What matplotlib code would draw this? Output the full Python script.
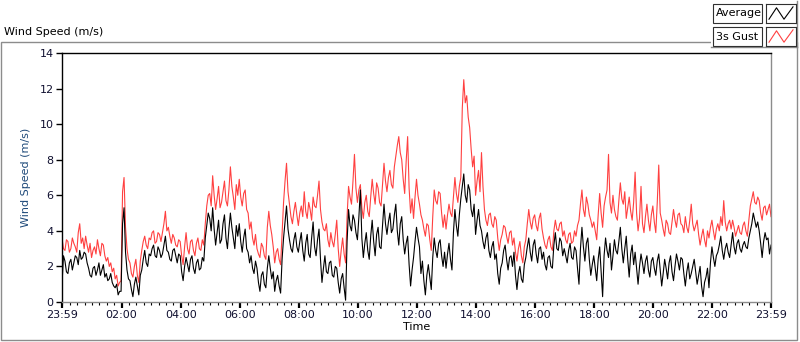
import matplotlib
matplotlib.use('Agg')
import matplotlib.pyplot as plt
import numpy as np
from matplotlib.patches import Rectangle
from matplotlib.lines import Line2D

# readings every 3 minutes starting at 23:59 (one row per hour)
gust = [3.6,3.0, 2.9,3.5, 3.4,2.8, 3.0,3.6, 3.3,3.1, 2.8,3.9, 4.4,3.3, 3.6,3.0, 3.7,3.2, 2.8,3.3,
        2.5,2.9, 3.1,2.7, 3.5,3.0, 2.6,3.3, 3.2,2.6, 2.3,2.5, 2.0,2.2, 1.7,1.9, 1.3,1.5, 0.9,1.1,
        1.2,6.2, 7.0,4.2, 3.0,2.4, 2.2,1.6, 1.4,2.0, 2.4,1.5, 1.1,2.3, 2.9,3.4, 3.7,3.2, 3.0,3.6,
        3.5,3.9, 4.0,3.3, 3.4,3.9, 3.8,3.4, 3.9,4.4, 5.1,4.0, 4.2,3.7, 3.3,3.8, 3.6,3.2, 3.1,3.5,
        3.4,2.6, 2.1,3.1, 3.9,3.0, 2.7,3.4, 3.5,2.9, 2.6,3.3, 3.6,3.0, 2.9,3.5, 3.2,4.4, 5.4,6.0,
        6.1,5.4, 7.1,6.0, 5.2,5.8, 6.5,5.3, 5.6,6.2, 6.8,5.7, 5.4,6.3, 7.6,6.5, 5.9,5.2, 6.6,6.0,
        6.9,5.9, 5.4,6.1, 6.3,5.2, 5.0,4.1, 4.5,3.6, 3.2,3.8, 3.0,2.7, 2.5,3.3, 3.1,2.6, 2.4,4.2,
        5.1,4.3, 3.8,3.1, 2.2,2.8, 3.0,2.4, 2.1,3.9, 5.6,6.8, 7.8,6.2, 5.5,4.8, 4.4,5.1, 5.6,4.9,
        4.3,5.0, 5.4,4.8, 6.2,5.1, 4.7,5.6, 5.2,4.6, 5.9,5.4, 5.3,6.0, 6.8,5.2, 4.5,4.1, 4.0,4.4,
        3.5,3.1, 3.9,3.4, 3.1,3.8, 4.6,3.0, 2.0,2.9, 3.6,2.7, 2.2,4.8, 6.5,5.9, 5.5,6.8, 8.3,6.4,
        5.6,6.3, 6.6,5.3, 4.7,5.6, 6.0,5.1, 4.8,5.9, 6.9,6.1, 5.5,6.7, 6.4,5.6, 5.4,6.6, 7.8,6.8,
        6.2,7.0, 7.4,6.6, 6.4,7.6, 8.2,8.8, 9.3,8.4, 8.0,6.9, 6.1,7.9, 9.3,6.4, 5.0,5.8, 4.7,5.9,
        6.9,6.0, 5.5,4.9, 4.6,4.1, 3.7,4.4, 4.3,3.5, 2.9,4.8, 6.3,5.7, 5.5,6.2, 6.1,5.0, 4.2,4.9,
        4.1,4.9, 5.5,5.0, 4.8,5.9, 7.0,6.1, 5.6,6.5, 7.0,10.9, 12.5,11.2, 11.6,10.4, 9.8,8.6, 7.6,8.2,
        6.0,6.8, 7.4,6.2, 8.4,6.5, 5.2,4.6, 4.3,4.9, 5.0,4.4, 4.2,4.8, 4.6,3.6, 2.9,3.5, 3.8,4.3,
        4.2,3.7, 3.3,3.9, 4.0,3.2, 3.6,2.8, 2.3,3.0, 3.4,2.6, 2.2,3.1, 3.5,4.4, 5.2,4.5, 4.1,4.7,
        4.9,4.3, 4.0,4.7, 5.0,4.1, 3.6,3.2, 3.0,3.5, 3.7,3.1, 2.9,4.0, 4.6,4.1, 4.0,4.4, 4.5,3.7,
        4.0,3.5, 3.3,3.8, 3.9,3.3, 3.4,4.0, 3.7,4.3, 4.6,5.5, 6.3,5.2, 4.8,5.9, 5.5,4.9, 4.6,4.2,
        4.5,4.0, 3.5,4.9, 6.1,5.0, 4.2,5.4, 5.9,6.3, 8.3,5.6, 5.0,6.0, 5.2,4.8, 4.6,5.7, 6.7,5.8,
        5.5,6.2, 4.7,5.3, 5.9,5.1, 4.6,5.6, 7.3,5.0, 4.0,4.7, 6.5,4.4, 3.9,4.8, 5.5,4.6, 4.0,4.9,
        5.4,4.5, 3.9,5.6, 7.7,5.0, 4.6,4.1, 3.7,4.6, 4.4,3.9, 3.8,4.5, 5.2,4.6, 4.2,4.9, 5.0,4.4,
        4.3,3.9, 4.8,4.2, 3.9,4.6, 5.5,4.4, 4.0,4.3, 4.6,3.8, 3.2,3.7, 4.1,3.5, 3.1,4.0, 3.6,4.2,
        4.6,4.0, 3.5,4.1, 4.4,4.0, 4.8,4.3, 5.7,4.5, 4.0,4.4, 4.6,4.1, 4.6,4.2, 3.7,4.0, 4.3,3.9,
        3.8,4.3, 4.5,4.0, 3.7,4.6, 5.4,5.8, 6.2,5.6, 5.5,5.9, 5.7,5.0, 4.6,5.3, 5.4,4.9, 5.2,5.5, 4.8]

average = [1.0,2.6, 2.3,1.7, 1.6,2.2, 2.4,1.8, 2.2,2.6, 2.5,2.1, 2.9,2.4, 2.5,2.8, 2.7,2.2, 1.9,1.5,
           1.4,1.9, 2.0,1.5, 1.8,2.2, 1.5,1.8, 2.1,1.4, 1.6,1.2, 1.3,1.6, 1.1,0.9, 0.8,1.0, 0.4,0.6,
           0.6,4.4, 5.3,2.8, 1.8,1.3, 1.2,0.7, 0.3,1.0, 1.4,0.9, 0.4,1.5, 1.8,2.4, 2.9,2.2, 2.0,2.7,
           2.6,3.0, 3.2,2.6, 2.5,3.1, 2.9,2.5, 2.7,3.2, 3.7,2.9, 2.8,2.4, 2.3,2.9, 3.0,2.6, 2.2,2.7,
           2.6,1.7, 1.2,2.0, 2.5,2.1, 1.7,2.4, 2.6,1.9, 1.6,2.2, 2.4,1.8, 1.9,2.5, 2.3,3.6, 4.3,5.0,
           4.7,4.0, 5.3,4.1, 3.2,3.9, 4.6,3.3, 3.5,4.4, 4.9,3.6, 3.0,4.1, 5.0,4.2, 3.6,3.0, 4.3,3.7,
           4.4,3.4, 2.8,3.6, 4.1,3.0, 2.8,2.2, 2.6,1.9, 1.6,2.3, 1.9,1.1, 0.6,1.5, 1.7,1.0, 0.8,1.9,
           2.6,1.9, 1.3,1.7, 0.6,1.2, 1.5,0.9, 0.5,2.4, 3.6,4.5, 5.4,4.1, 3.5,3.0, 2.8,3.5, 3.9,3.1,
           2.8,3.4, 3.9,2.9, 2.3,3.3, 3.8,2.7, 2.5,3.6, 4.5,3.1, 2.6,3.5, 4.1,2.4, 1.1,1.9, 2.6,1.7,
           1.6,2.2, 2.3,1.5, 1.4,2.0, 1.9,1.1, 0.5,1.3, 1.6,0.8, 0.1,3.4, 5.2,4.3, 4.0,4.9, 4.6,3.9,
           3.5,4.8, 6.3,3.6, 2.5,3.3, 3.9,2.9, 2.4,3.7, 4.6,3.4, 2.6,3.8, 4.2,3.1, 3.0,4.3, 5.5,4.4,
           3.8,4.5, 5.0,3.9, 4.1,4.9, 5.5,4.0, 3.2,4.4, 4.8,3.5, 2.7,3.3, 3.7,2.1, 0.9,1.8, 2.5,3.4,
           4.2,3.6, 3.1,1.6, 2.3,1.2, 0.4,1.5, 2.1,1.4, 0.7,2.5, 3.6,2.9, 2.5,3.3, 3.5,2.6, 2.0,2.8,
           1.9,2.7, 3.3,2.4, 1.8,3.9, 5.2,4.3, 3.7,4.9, 5.8,6.5, 7.2,6.0, 5.6,6.6, 6.3,5.2, 4.8,5.5,
           3.8,4.6, 5.2,4.3, 4.0,3.4, 3.0,3.6, 3.9,2.9, 2.5,3.1, 3.4,2.4, 2.7,1.6, 1.0,1.9, 2.2,2.9,
           3.2,2.4, 1.8,2.5, 2.6,2.0, 2.8,1.5, 0.7,1.6, 2.0,1.3, 1.1,2.1, 2.5,3.1, 3.6,2.8, 2.3,3.2,
           3.5,2.7, 2.2,3.0, 3.1,2.4, 2.8,2.1, 1.8,2.5, 2.6,2.0, 1.9,3.2, 3.9,3.0, 2.9,3.6, 3.4,2.6,
           3.0,2.6, 2.2,2.9, 3.3,2.5, 2.4,3.1, 2.9,1.9, 1.0,3.0, 4.2,3.1, 2.3,3.3, 3.6,2.4, 1.5,2.1,
           2.6,1.9, 1.2,2.4, 3.1,1.7, 0.3,2.6, 3.6,2.9, 2.5,3.3, 1.8,2.6, 3.5,2.9, 2.7,3.4, 4.2,3.0,
           2.2,3.0, 3.7,2.4, 1.4,2.7, 3.2,2.1, 2.8,1.9, 1.0,2.0, 2.7,2.2, 1.6,2.3, 2.6,1.8, 1.4,2.3,
           2.5,1.9, 1.5,2.3, 2.7,1.8, 0.9,1.6, 2.4,1.9, 1.3,2.2, 2.6,1.7, 1.2,2.0, 2.7,2.3, 1.8,2.5,
           2.4,1.6, 0.9,1.7, 2.2,1.3, 1.6,2.0, 2.4,1.7, 1.0,1.5, 2.0,0.9, 0.3,1.1, 1.4,1.9, 0.8,2.2,
           3.1,2.5, 2.0,2.6, 2.8,3.2, 3.7,2.9, 2.4,3.0, 3.3,2.8, 2.5,3.2, 3.9,3.1, 2.7,3.3, 3.5,3.0,
           2.8,3.2, 3.4,3.1, 3.0,3.6, 4.0,4.4, 5.0,4.6, 4.2,4.5, 4.0,3.3, 2.5,3.4, 3.9,3.5, 3.6,2.7, 3.2]

tick_hours = [-1/60, 2, 4, 6, 8, 10, 12, 14, 16, 18, 20, 22, 24 - 1/60]
tick_labels = ['23:59', '02:00', '04:00', '06:00', '08:00', '10:00', '12:00',
               '14:00', '16:00', '18:00', '20:00', '22:00', '23:59']

hours = -1/60 + 0.05 * np.arange(len(gust))

W, H = 800, 342
fig = plt.figure(figsize=(W/100, H/100), dpi=100)
fig.patch.set_facecolor('white')
plt.rcParams['font.family'] = 'DejaVu Sans'

ax = fig.add_axes([62/W, 40/H, 709/W, 249/H])
ax.plot(hours, gust, color='#ff4040', lw=0.8)
ax.plot(hours, average, color='black', lw=0.8)
ax.set_xlim(-1/60, 24 - 1/60)
ax.set_ylim(0, 14)

ax.set_yticks(range(0, 15, 2))
ax.set_xticks(tick_hours)
ax.set_xticklabels(tick_labels)
ax.set_xticks(np.arange(0, 24, 0.25), minor=True)
ax.tick_params(axis='both', which='major', direction='out', length=4, width=1,
               labelsize=8, colors='black', pad=2)
ax.tick_params(axis='x', which='major', width=1.6, length=4)
ax.tick_params(axis='x', which='minor', direction='out', length=2.5, width=0.8)
for lbl in ax.get_yticklabels() + ax.get_xticklabels():
    lbl.set_color('#101030')

ax.spines['top'].set_color('black')
ax.spines['left'].set_color('black')
ax.spines['bottom'].set_color('#8c8c8c')
ax.spines['right'].set_color('#8c8c8c')
for s in ax.spines.values():
    s.set_linewidth(1)

ax.set_xlabel('Time', fontsize=8, labelpad=1)
ax.set_ylabel('Wind Speed (m/s)', fontsize=8, color='#1f4a7a', labelpad=6)

# outer frame of the graph
fig.add_artist(Rectangle((1/W, 2/H), 796/W, 298/H, transform=fig.transFigure,
                         fill=False, edgecolor='#8c8c8c', lw=1))
fig.text(4/W, 1 - 32/H, 'Wind Speed (m/s)', fontsize=8, va='center', ha='left')

# legend panel
fig.add_artist(Rectangle((711/W, 1 - 47/H), 86/W, 46/H, transform=fig.transFigure,
                         facecolor='white', edgecolor='none', zorder=5))
fig.add_artist(Line2D([711/W, 797/W], [1 - 47/H, 1 - 47/H], color='#8c8c8c', lw=1, zorder=6))
fig.add_artist(Line2D([797/W, 797/W], [1 - 47/H, 1 - 1/H], color='#8c8c8c', lw=1, zorder=6))

names = ['Average', '3s Gust']
colors = ['black', '#ff4040']
zig_x = [0.1, 0.35, 0.6, 0.9]
zig_y = [0.2, 0.8, 0.2, 0.85]
for i, (name, c) in enumerate(zip(names, colors)):
    top = 4 + i * 23
    fig.add_artist(Rectangle((713/W, 1 - (top + 19)/H), 49/W, 19/H,
                             transform=fig.transFigure, facecolor='white',
                             edgecolor='#303030', lw=0.8, zorder=7))
    fig.text(716/W, 1 - (top + 9.5)/H, name, fontsize=8, va='center', ha='left', zorder=8)
    lax = fig.add_axes([766/W, 1 - (top + 19)/H, 30/W, 19/H], zorder=9)
    lax.plot(zig_x, zig_y, color=c, lw=0.8)
    lax.set_xlim(0, 1)
    lax.set_ylim(0, 1)
    lax.set_xticks([])
    lax.set_yticks([])
    for s in lax.spines.values():
        s.set_color('#303030')
        s.set_linewidth(0.8)

fig.savefig('out.png', dpi=100)
